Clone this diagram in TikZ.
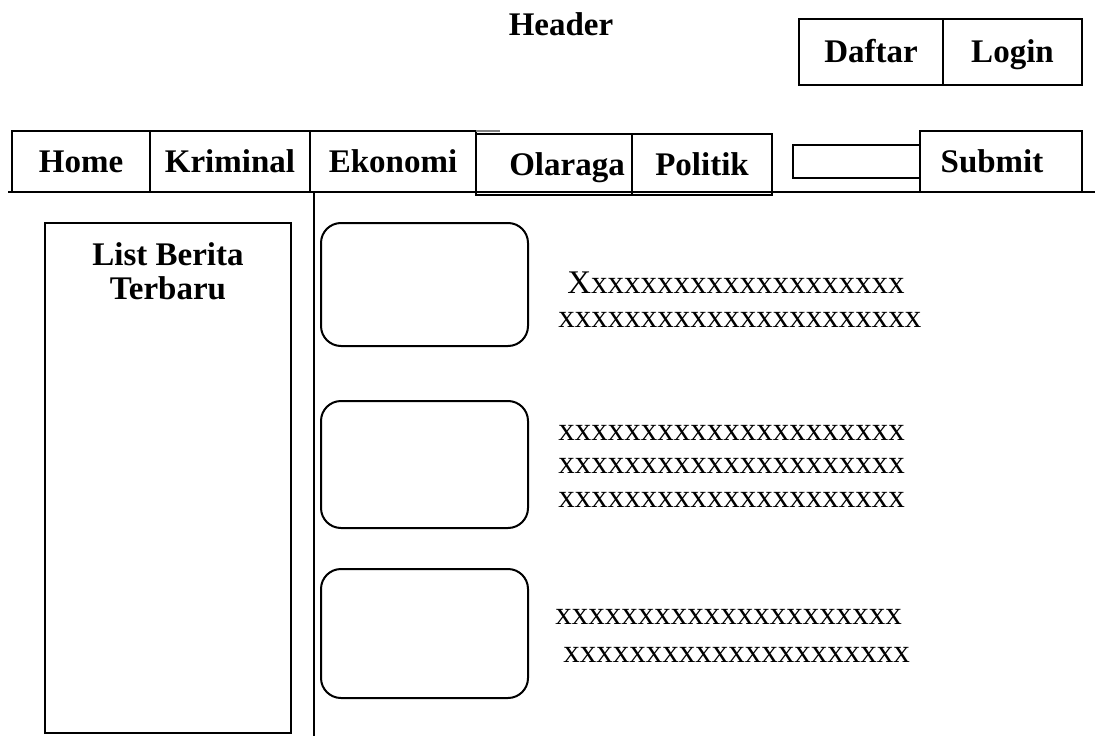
\documentclass[tikz,border=0pt]{standalone}
\usepackage{fontspec}
\setmainfont{Liberation Serif}
\usetikzlibrary{positioning}
\newlength\pxu
\setlength\pxu{0.5pt}

\begin{document}
\begin{tikzpicture}[x=0.5pt,y=-0.5pt,
  menubox/.style={draw,line width=1pt,minimum height=61\pxu,inner sep=0pt,outer sep=0pt,text height=25\pxu,text depth=3\pxu,font=\fontsize{16.5}{19}\selectfont\bfseries},
  thumbbox/.style={draw,line width=1pt,rounded corners=10pt,minimum width=207\pxu,inner sep=0pt},
  dummytext/.style={anchor=base west,inner sep=0pt,font=\fontsize{16.5}{19}\selectfont}]
  \useasboundingbox (0,0) rectangle (1097,738);
  % header and account buttons
  \node[anchor=base,inner sep=0pt,font=\fontsize{16.5}{19}\selectfont\bfseries] (header) at (561,36) {Header};
  \node[menubox,minimum width=144\pxu,minimum height=66\pxu] (daftar) at (871,52) {Daftar};
  \node[menubox,minimum width=139\pxu,minimum height=66\pxu,right=0pt of daftar] (login) {Login};
  % navigation bar
  \coordinate (navleft) at (8,192);
  \coordinate (navright) at (1095,192);
  \draw[line width=1pt] (navleft) -- (navright);
  \node[menubox,minimum width=138\pxu] (home) at (81,161.5) {Home};
  \node[menubox,minimum width=160\pxu,right=0pt of home] (kriminal) {Kriminal};
  \node[menubox,minimum width=166\pxu,right=0pt of kriminal] (ekonomi) {Ekonomi};
  \draw[line width=1pt,black!50] (ekonomi.north east) -- ++(24,0);
  \node[menubox,minimum width=156\pxu] (olaraga) at (554,164.5) {\hspace*{26\pxu}Olaraga};
  \node[menubox,minimum width=140\pxu,right=0pt of olaraga] (politik) {Politik};
  \node[draw,line width=1pt,minimum width=127\pxu,minimum height=33\pxu,inner sep=0pt,outer sep=0pt] (search) at (856.5,161.5) {};
  \node[menubox,minimum width=162\pxu,right=0pt of search] (submit) {Submit\hspace*{18\pxu}};
  % sidebar
  \coordinate (divtop) at (314,192);
  \coordinate (divbot) at (314,736);
  \draw[line width=1pt] (divtop) -- (divbot);
  \node[draw,line width=1pt,minimum width=246\pxu,minimum height=510\pxu,inner sep=0pt] (listbox) at (168,478) {};
  \node[below=20\pxu of listbox.north,inner sep=0pt,align=center,font=\fontsize{16.5}{17}\selectfont\bfseries] (listtitle) {List Berita\\Terbaru};
  % news items
  \node[thumbbox,minimum height=123\pxu] (thumba) at (424.5,284.5) {};
  \node[thumbbox,minimum height=127\pxu] (thumbb) at (424.5,464.5) {};
  \node[thumbbox,minimum height=129\pxu] (thumbc) at (424.5,633.5) {};
  \node[dummytext] (texta1) at (567,293) {Xxxxxxxxxxxxxxxxxxxx};
  \node[dummytext] (texta2) at (558,327) {xxxxxxxxxxxxxxxxxxxxxx};
  \node[dummytext] (textb1) at (558,440) {xxxxxxxxxxxxxxxxxxxxx};
  \node[dummytext] (textb2) at (558,473) {xxxxxxxxxxxxxxxxxxxxx};
  \node[dummytext] (textb3) at (558,507) {xxxxxxxxxxxxxxxxxxxxx};
  \node[dummytext] (textc1) at (555,624) {xxxxxxxxxxxxxxxxxxxxx};
  \node[dummytext] (textc2) at (563,662) {xxxxxxxxxxxxxxxxxxxxx};
\end{tikzpicture}
\end{document}
